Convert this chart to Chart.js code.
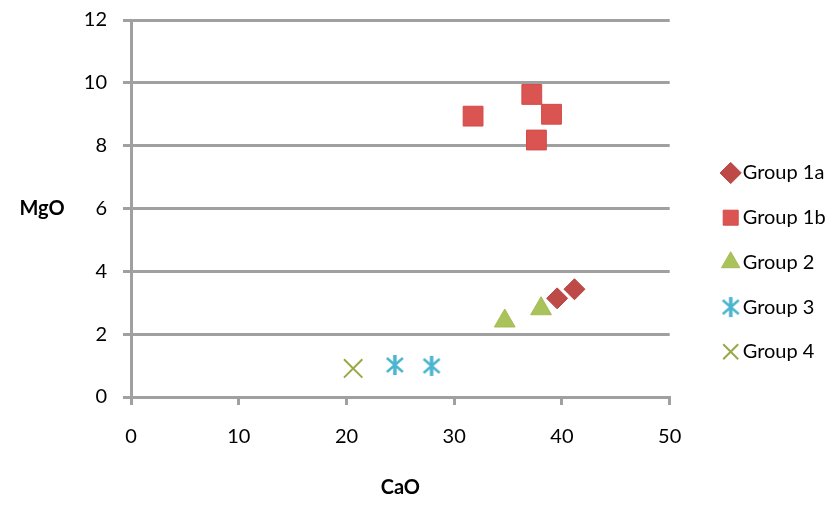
<!DOCTYPE html>
<html><head><meta charset="utf-8">
<script src="https://cdn.jsdelivr.net/npm/chart.js@4.4.1/dist/chart.umd.min.js"></script>
<style>html,body{margin:0;padding:0;background:#fff}#wrap{width:840px;height:505px}</style>
</head><body><div id="wrap"><canvas id="c" width="840" height="505"></canvas></div>
<script>
// ---- data ----
const seriesNames = ['Group 1a', 'Group 1b', 'Group 2', 'Group 3', 'Group 4'];
const group1aCaO = [39.55, 41.16];
const group1aMgO = [3.14, 3.43];
const group1bCaO = [31.75, 37.2, 39.03, 37.63];
const group1bMgO = [8.94, 9.63, 9.0, 8.18];
const group2CaO = [34.69, 38.06];
const group2MgO = [2.42, 2.81];
const group3CaO = [24.49, 27.9];
const group3MgO = [1.02, 0.99];
const group4CaO = [20.62];
const group4MgO = [0.91];
const xTicks = [0, 10, 20, 30, 40, 50];
const yTicks = [0, 2, 4, 6, 8, 10, 12];
const xAxisTitle = 'CaO';
const yAxisTitle = 'MgO';

// ---- styles ----
const FONT = 'Lato';
const GRID = '#A0A0A0';
function pts(xs, ys) { return xs.map((x, i) => ({ x: x, y: ys[i] })); }

// Excel-like star marker: vertical bar + X
function makeStar(color) {
  const c = document.createElement('canvas');
  c.width = 22; c.height = 22;
  const g = c.getContext('2d');
  g.strokeStyle = color; g.lineCap = 'butt';
  g.lineWidth = 3.5;
  g.beginPath(); g.moveTo(11, 1); g.lineTo(11, 21); g.stroke();
  g.lineWidth = 2.5;
  g.beginPath(); g.moveTo(3, 4); g.lineTo(19, 18); g.moveTo(19, 4); g.lineTo(3, 18); g.stroke();
  return c;
}
const starImg = makeStar('#4BB5CF');

const datasets = [
  { label: seriesNames[0], data: pts(group1aCaO, group1aMgO), pointStyle: 'rectRot', pointRadius: 10.5,
    backgroundColor: '#BE4A47', borderColor: '#B84440', pointBorderWidth: 1 },
  { label: seriesNames[1], data: pts(group1bCaO, group1bMgO), pointStyle: 'rect', pointRadius: 14,
    backgroundColor: '#DA5451', borderColor: '#D44A47', pointBorderWidth: 1 },
  { label: seriesNames[2], data: pts(group2CaO, group2MgO), pointStyle: 'triangle', pointRadius: 12,
    backgroundColor: '#AAC25A', borderColor: '#A3BC52', pointBorderWidth: 1 },
  { label: seriesNames[3], data: pts(group3CaO, group3MgO), pointStyle: starImg, pointRadius: 10,
    backgroundColor: '#4BB5CF', borderColor: '#4BB5CF', pointBorderWidth: 1 },
  { label: seriesNames[4], data: pts(group4CaO, group4MgO), pointStyle: 'crossRot', pointRadius: 13,
    backgroundColor: '#98AA48', borderColor: '#98AA48', pointBorderWidth: 2 }
];
datasets.forEach(d => { d.showLine = false; d.pointHoverRadius = d.pointRadius; });

const yTitlePlugin = {
  id: 'yTitleFlat',
  afterDraw(chart) {
    const { ctx, chartArea } = chart;
    ctx.save();
    ctx.font = 'bold 20px ' + FONT;
    ctx.fillStyle = '#000';
    ctx.textAlign = 'center';
    ctx.textBaseline = 'middle';
    ctx.fillText(yAxisTitle, 42, (chartArea.top + chartArea.bottom) / 2);
    ctx.restore();
  }
};

new Chart(document.getElementById('c'), {
  type: 'scatter',
  data: { datasets: datasets },
  plugins: [yTitlePlugin],
  options: {
    responsive: false,
    animation: false,
    events: [],
    layout: { padding: { top: 20, right: 6, bottom: 0, left: 0 } },
    plugins: {
      tooltip: { enabled: false },
      legend: {
        position: 'right',
        align: 'start',
        maxWidth: 130,
        title: { display: true, text: ' ', font: { family: FONT, size: 20 }, padding: { top: 94.3, bottom: 0 } },
        labels: {
          usePointStyle: true,
          boxWidth: 4,
          boxHeight: 15,
          padding: 24.7,
          color: '#000',
          font: { family: FONT, size: 20 }
        }
      }
    },
    scales: {
      x: {
        type: 'linear', position: 'bottom', min: 0, max: 50,
        afterBuildTicks(s) { s.ticks = xTicks.map(v => ({ value: v })); },
        afterFit(s) { s.height = 108; },
        ticks: { color: '#000', font: { family: FONT, size: 20 }, padding: 20 },
        grid: { drawOnChartArea: false, drawTicks: true, tickLength: 8, color: GRID, lineWidth: 3 },
        border: { display: true, color: GRID, width: 3 },
        title: { display: true, text: xAxisTitle, color: '#000', font: { family: FONT, size: 20, weight: 'bold' }, padding: { top: 0, bottom: 5 } }
      },
      y: {
        type: 'linear', position: 'left', min: 0, max: 12,
        afterBuildTicks(s) { s.ticks = yTicks.map(v => ({ value: v })); },
        afterFit(s) { s.width = 131; s.paddingTop = 0; s.paddingBottom = 0; },
        ticks: { color: '#000', font: { family: FONT, size: 20 }, padding: 16 },
        grid: { drawTicks: true, tickLength: 8, color: GRID, lineWidth: 3 },
        border: { display: true, color: GRID, width: 3 }
      },
      gap: {
        type: 'linear', position: 'right', display: true,
        afterFit(s) { s.width = 34.3; },
        ticks: { display: false },
        grid: { display: false },
        border: { display: false }
      }
    }
  }
});
</script>
</body></html>
